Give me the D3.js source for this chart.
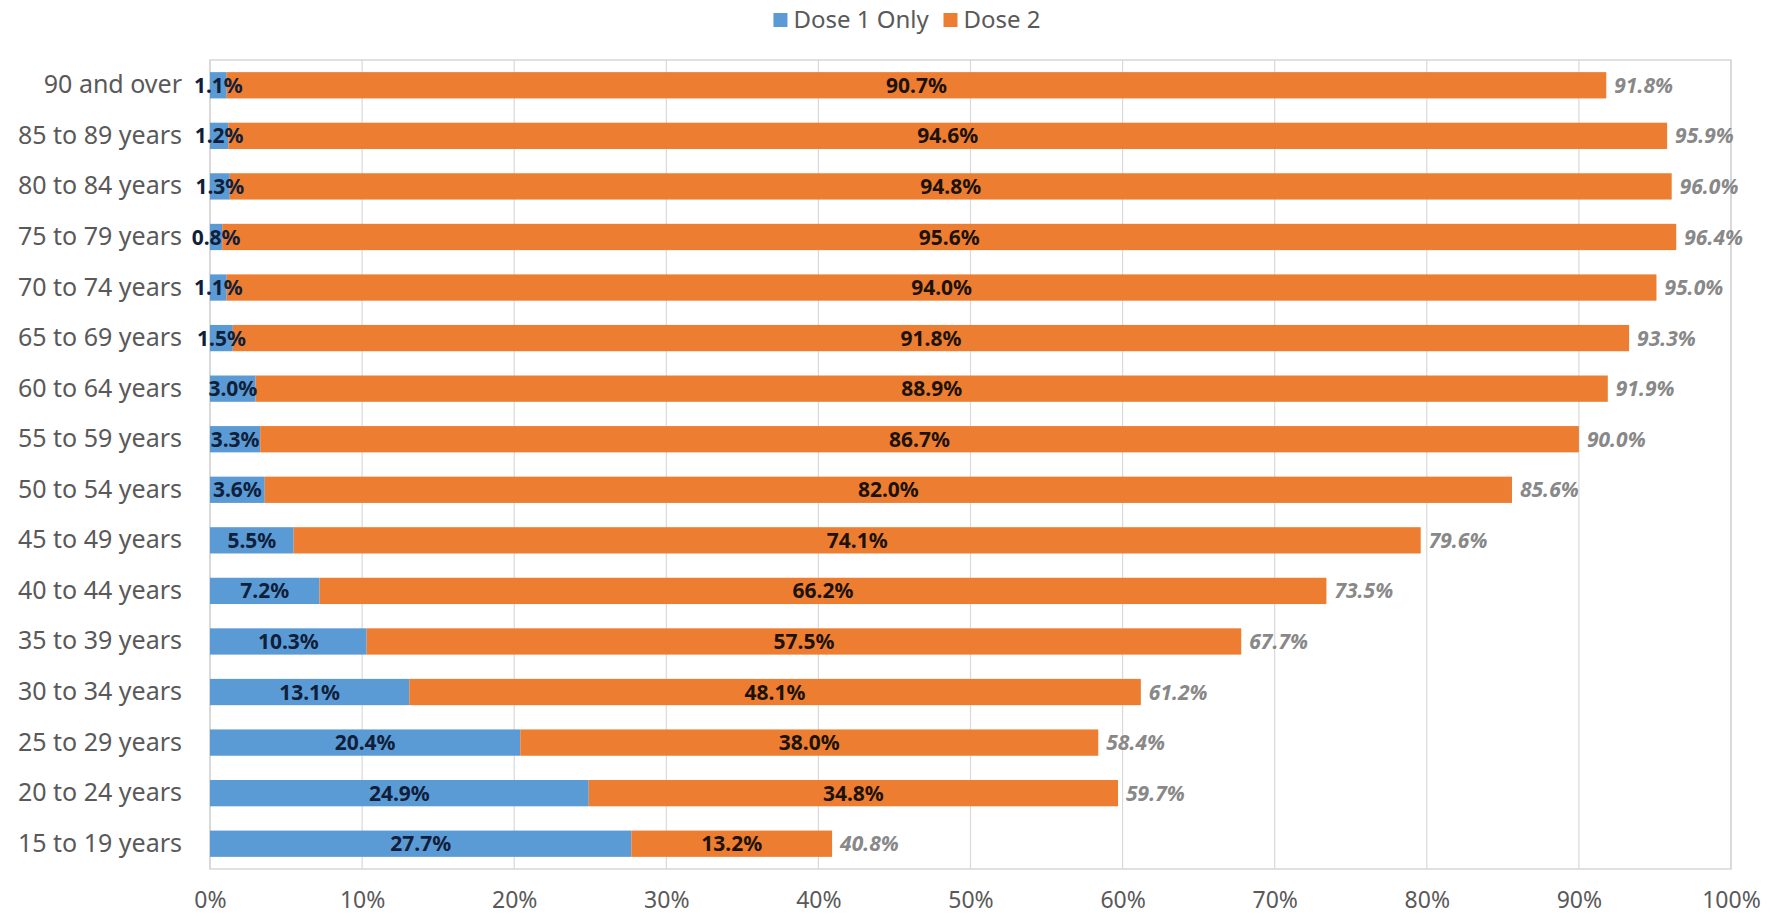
<!DOCTYPE html>
<html>
<head>
<meta charset="utf-8">
<script src="https://cdn.jsdelivr.net/npm/d3@7"></script>
<style>
  html, body { margin: 0; padding: 0; background: #ffffff; }
  svg { display: block; }
</style>
</head>
<body>
<svg id="chart" width="1776" height="917"></svg>
<script>
const categories = ["90 and over", "85 to 89 years", "80 to 84 years", "75 to 79 years", "70 to 74 years",
  "65 to 69 years", "60 to 64 years", "55 to 59 years", "50 to 54 years", "45 to 49 years",
  "40 to 44 years", "35 to 39 years", "30 to 34 years", "25 to 29 years", "20 to 24 years", "15 to 19 years"];
const dose1Only = [1.1, 1.2, 1.3, 0.8, 1.1, 1.5, 3.0, 3.3, 3.6, 5.5, 7.2, 10.3, 13.1, 20.4, 24.9, 27.7];
const dose2 = [90.7, 94.6, 94.8, 95.6, 94.0, 91.8, 88.9, 86.7, 82.0, 74.1, 66.2, 57.5, 48.1, 38.0, 34.8, 13.2];
const totals = [91.8, 95.9, 96.0, 96.4, 95.0, 93.3, 91.9, 90.0, 85.6, 79.6, 73.5, 67.7, 61.2, 58.4, 59.7, 40.8];
const seriesNames = ["Dose 1 Only", "Dose 2"];
const xTicks = [0, 10, 20, 30, 40, 50, 60, 70, 80, 90, 100];

const colors = ["#5B9BD5", "#ED7D31"];
const font = "'Noto Sans', 'Open Sans', sans-serif";

const svg = d3.select("#chart");
const plotLeft = 210, plotRight = 1731, plotTop = 60, plotBottom = 869;

const x = d3.scaleLinear().domain([0, 100]).range([plotLeft, plotRight]);
const y = d3.scaleBand().domain(categories).range([plotTop, plotBottom]).paddingInner(0.48).paddingOuter(0.24);

// gridlines
svg.append("g").selectAll("line").data(xTicks).join("line")
  .attr("x1", d => x(d)).attr("x2", d => x(d))
  .attr("y1", plotTop).attr("y2", plotBottom)
  .attr("stroke", "#d9d9d9").attr("stroke-width", 1.2);

// frame
svg.append("rect").attr("x", plotLeft).attr("y", plotTop)
  .attr("width", plotRight - plotLeft).attr("height", plotBottom - plotTop)
  .attr("fill", "none").attr("stroke", "#d4d4d4").attr("stroke-width", 1.4);

// x axis labels
const xAxis = d3.axisBottom(x).tickValues(xTicks).tickFormat(d => d + "%").tickSize(0).tickPadding(0);
const gx = svg.append("g").attr("transform", `translate(0,${plotBottom})`).call(xAxis);
gx.select(".domain").remove();
gx.selectAll("text").attr("y", 31).attr("dy", "0.35em")
  .attr("font-family", font).attr("font-size", 23).attr("fill", "#595959");

// y axis labels
const yAxis = d3.axisLeft(y).tickSize(0).tickPadding(0);
const gy = svg.append("g").attr("transform", `translate(${plotLeft - 28},0)`).call(yAxis);
gy.select(".domain").remove();
gy.selectAll("text").attr("font-family", font).attr("font-size", 25).attr("fill", "#595959");

// stacked data
const rows = categories.map((c, i) => ({ cat: c, d1: dose1Only[i], d2: dose2[i], total: totals[i] }));
const stacked = d3.stack().keys(["d1", "d2"])(rows);

const layers = svg.append("g").selectAll("g").data(stacked).join("g")
  .attr("fill", (d, i) => colors[i]);

layers.selectAll("rect").data(d => d).join("rect")
  .attr("x", d => x(d[0]))
  .attr("width", d => x(d[1]) - x(d[0]))
  .attr("y", d => y(d.data.cat))
  .attr("height", y.bandwidth());

// segment labels
const labelG = svg.append("g");
stacked.forEach((layer, li) => {
  labelG.append("g").selectAll("text").data(layer).join("text")
    .attr("x", d => x((d[0] + d[1]) / 2))
    .attr("y", d => y(d.data.cat) + y.bandwidth() / 2)
    .attr("dy", "0.36em")
    .attr("text-anchor", "middle")
    .attr("font-family", font).attr("font-size", 21).attr("font-weight", "bold")
    .attr("fill", li === 0 ? "#10203a" : "#1c1208")
    .text(d => d3.format(".1f")(d[1] - d[0]) + "%");
});

// total labels
svg.append("g").selectAll("text").data(rows).join("text")
  .attr("x", d => x(d.d1 + d.d2) + 8)
  .attr("y", d => y(d.cat) + y.bandwidth() / 2)
  .attr("dy", "0.36em")
  .attr("font-family", font).attr("font-size", 21).attr("font-style", "italic").attr("font-weight", "bold")
  .attr("fill", "#888888")
  .text(d => d3.format(".1f")(d.total) + "%");

// legend
const legend = svg.append("g");
const items = legend.selectAll("g").data(seriesNames).join("g");
items.append("rect").attr("width", 14).attr("height", 14).attr("y", 13)
  .attr("fill", (d, i) => colors[i]);
items.append("text").attr("x", 20).attr("y", 20).attr("dy", "0.35em")
  .attr("font-family", font).attr("font-size", 24).attr("fill", "#595959")
  .text(d => d);
const widths = [];
items.each(function () { widths.push(this.getBBox().width); });
const gap = 14;
const totalW = d3.sum(widths) + gap * (widths.length - 1);
const legendStart = 907 - totalW / 2;
items.attr("transform", (d, i) => {
  const tx = legendStart + d3.sum(widths.slice(0, i)) + gap * i;
  return `translate(${tx},0)`;
});
</script>
</body>
</html>
